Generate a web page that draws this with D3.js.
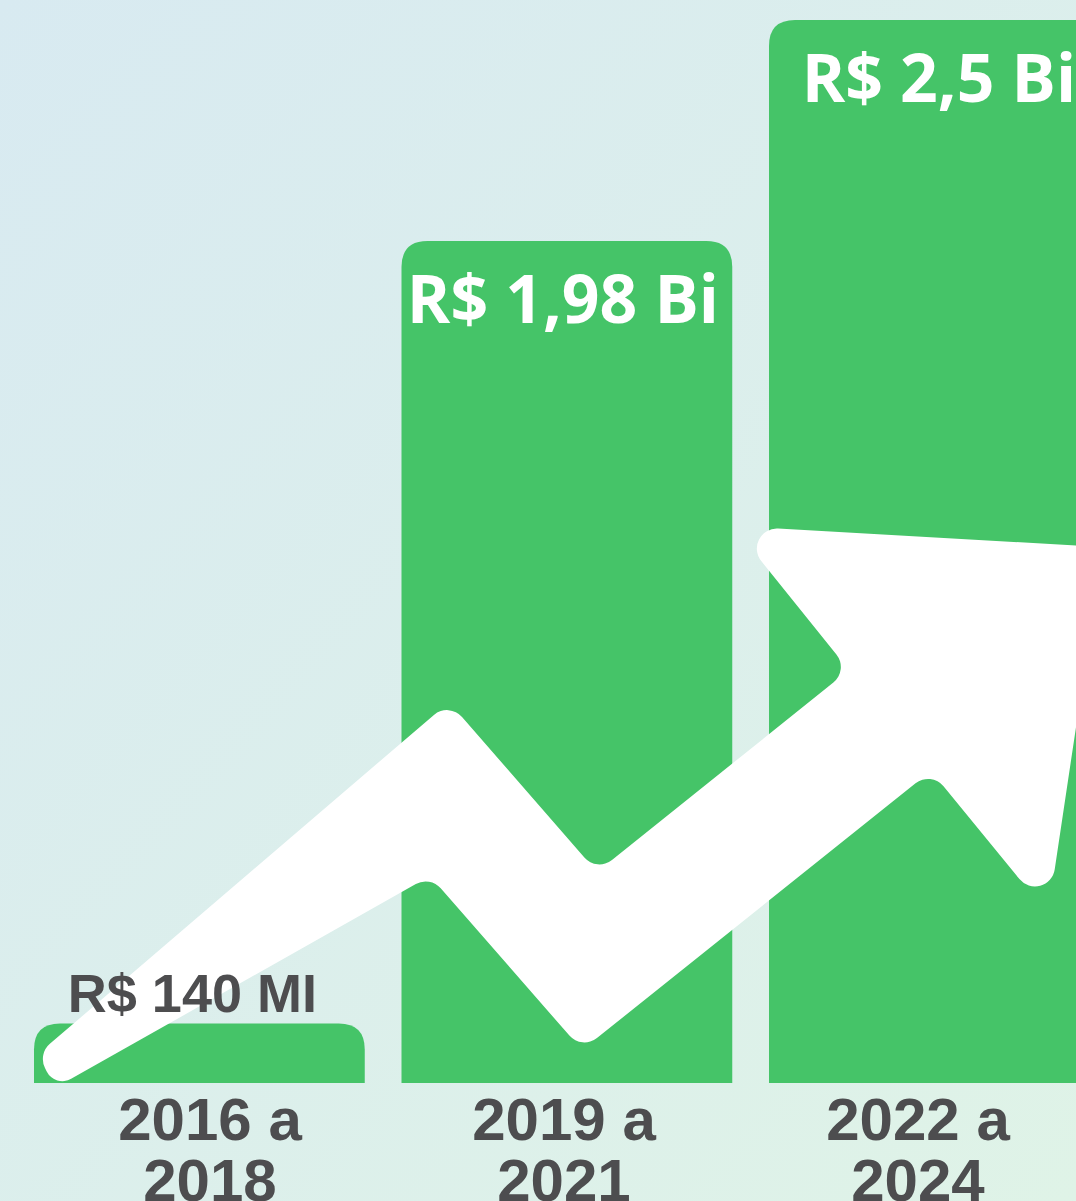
<!DOCTYPE html>
<html>
<head>
<meta charset="utf-8">
<script src="https://cdn.jsdelivr.net/npm/d3@7"></script>
<style>
  html, body { margin: 0; padding: 0; overflow: hidden; }
  svg { display: block; }
</style>
</head>
<body>
<svg id="chart" width="1076" height="1201"></svg>
<script>
// ---- data ----
const periods = ["2016 a 2018", "2019 a 2021", "2022 a 2024"];
const periodLines = [["2016 a", "2018"], ["2019 a", "2021"], ["2022 a", "2024"]];
const values = [0.14, 1.98, 2.5];           // R$ bilhões
const valueLabels = ["R$ 140 MI", "R$ 1,98 Bi", "R$ 2,5 Bi"];

// ---- layout ----
const W = 1076, H = 1201;
const baseY = 1083, topY = 20;
const svg = d3.select("#chart");

const defs = svg.append("defs");
const grad = defs.append("linearGradient").attr("id", "bg")
  .attr("x1", "0%").attr("y1", "0%").attr("x2", "100%").attr("y2", "100%");
grad.append("stop").attr("offset", "0%").attr("stop-color", "#d8eaf1");
grad.append("stop").attr("offset", "100%").attr("stop-color", "#dff3e7");
svg.append("rect").attr("width", W).attr("height", H).attr("fill", "url(#bg)");

const x = d3.scaleBand().domain(periods).range([34, 1099.75])
  .paddingInner(0.1).paddingOuter(0);
const y = d3.scaleLinear().domain([0, 2.5]).range([baseY, topY]);
const xLabel = d3.scalePoint().domain(periods).range([210, 918]);

const R = 26;
function barPath(x0, w, yTop, yBot) {
  const r = Math.min(R, (yBot - yTop));
  return `M${x0},${yBot} L${x0},${yTop + r} Q${x0},${yTop} ${x0 + r},${yTop} ` +
         `L${x0 + w - r},${yTop} Q${x0 + w},${yTop} ${x0 + w},${yTop + r} L${x0 + w},${yBot} Z`;
}

svg.append("g").selectAll("path").data(periods).join("path")
  .attr("d", (d, i) => barPath(x(d), x.bandwidth(), y(values[i]), baseY))
  .attr("fill", "#45c468");

// ---- decorative arrow (illustration, not data) ----
const arrowShape = [
  [38, 1054], [449, 702], [597, 872], [849, 670], [733, 526], [1103, 547],
  [1048, 914], [931, 771], [582, 1050], [430, 876], [55, 1088]
];
function roundedPolygon(pts, rad) {
  const n = pts.length;
  let d = "";
  const segs = [];
  for (let i = 0; i < n; i++) {
    const P = pts[i], A = pts[(i - 1 + n) % n], B = pts[(i + 1) % n];
    const a = [A[0] - P[0], A[1] - P[1]], b = [B[0] - P[0], B[1] - P[1]];
    const la = Math.hypot(a[0], a[1]), lb = Math.hypot(b[0], b[1]);
    const u1 = [a[0] / la, a[1] / la], u2 = [b[0] / lb, b[1] / lb];
    const cos = Math.max(-1, Math.min(1, u1[0] * u2[0] + u1[1] * u2[1]));
    const th = Math.acos(cos);
    let t = rad / Math.tan(th / 2);
    t = Math.min(t, la / 2.05, lb / 2.05);
    const rr = t * Math.tan(th / 2);
    const S = [P[0] + u1[0] * t, P[1] + u1[1] * t];
    const E = [P[0] + u2[0] * t, P[1] + u2[1] * t];
    const d1 = [-u1[0], -u1[1]];
    const cross = d1[0] * u2[1] - d1[1] * u2[0];
    segs.push({ S, E, rr, sweep: cross > 0 ? 1 : 0 });
  }
  segs.forEach((s, i) => {
    d += (i === 0 ? "M" : "L") + s.S[0].toFixed(2) + "," + s.S[1].toFixed(2);
    d += ` A${s.rr.toFixed(2)},${s.rr.toFixed(2)} 0 0 ${s.sweep} ${s.E[0].toFixed(2)},${s.E[1].toFixed(2)}`;
  });
  return d + " Z";
}
svg.append("path").attr("d", roundedPolygon(arrowShape, 20)).attr("fill", "#ffffff");

// ---- value labels ----
const labelG = svg.append("g");
periods.forEach((p, i) => {
  const cx = x(p) + x.bandwidth() / 2;
  if (i === 0) {
    labelG.append("text")
      .attr("x", cx - 7).attr("y", y(values[i]) - 11)
      .attr("text-anchor", "middle")
      .style("font-family", "'Liberation Sans', Arial, sans-serif")
      .style("font-weight", "bold").style("font-size", "54px")
      .attr("fill", "#4d4d4f").text(valueLabels[i]);
  } else {
    const dx = i === 1 ? -4 : 4.5;
    labelG.append("text")
      .attr("x", cx + dx).attr("y", y(values[i]) + 82)
      .attr("text-anchor", "middle")
      .style("font-family", "'Open Sans', sans-serif")
      .style("font-weight", "bold").style("font-size", "66px")
      .attr("fill", "#ffffff").text(valueLabels[i]);
  }
});

// ---- category labels ----
const catG = svg.append("g");
periods.forEach((p, i) => {
  const t = catG.append("text")
    .attr("x", xLabel(p)).attr("y", 1140)
    .attr("text-anchor", "middle")
    .style("font-family", "'Liberation Sans', Arial, sans-serif")
    .style("font-weight", "bold").style("font-size", "60px")
    .attr("fill", "#4d4d4f");
  periodLines[i].forEach((ln, j) => {
    t.append("tspan").attr("x", xLabel(p)).attr("dy", j === 0 ? 0 : 61).text(ln);
  });
});
</script>
</body>
</html>
